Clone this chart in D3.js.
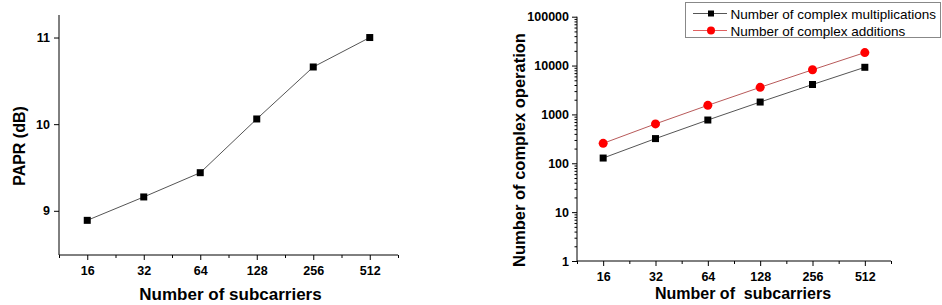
<!DOCTYPE html>
<html>
<head>
<meta charset="utf-8">
<script src="https://cdn.jsdelivr.net/npm/d3@7"></script>
<style>
  body { margin: 0; background: #fff; }
  svg { display: block; font-family: Arial, "Liberation Sans", sans-serif; }
  .tick text { font-weight: bold; font-size: 12.5px; fill: #000; }
</style>
</head>
<body>
<div id="viz"></div>
<script>
const width = 942;
const height = 305;

// Data
const subcarriers = [16, 32, 64, 128, 256, 512];
const papr = [8.89, 9.16, 9.44, 10.06, 10.66, 11.0];
const multiplications = [128, 320, 768, 1792, 4096, 9216];
const additions = [256, 640, 1536, 3584, 8192, 18432];
const leftYTicks = [9, 10, 11];
const rightYTicks = [1, 10, 100, 1000, 10000, 100000];
const seriesNames = ['Number of complex multiplications', 'Number of complex additions'];

const svg = d3.select('#viz')
  .append('svg')
  .attr('width', width)
  .attr('height', height);

// half a step either side of the first/last point (log2 spacing)
const xDomain = [16 / Math.SQRT2, 512 * Math.SQRT2];
const midTicks = [];
for (let i = 0; i <= subcarriers.length; i++) midTicks.push(16 * Math.pow(2, i - 0.5));

// ---------- Left chart: PAPR ----------
const left = {x0: 59, x1: 398, y0: 255, y1: 15};
const xL = d3.scaleLog().base(2).domain(xDomain).range([left.x0, left.x1]);
const yL = d3.scaleLinear().domain([8.49, 11.26]).range([left.y0, left.y1]);

const gL = svg.append('g');

// minor x ticks
gL.append('g')
  .attr('transform', `translate(0,${left.y0})`)
  .call(d3.axisBottom(xL).tickValues(midTicks).tickSize(3).tickFormat(''))
  .call(g => g.select('.domain').remove());

gL.append('g')
  .attr('transform', `translate(0,${left.y0})`)
  .call(d3.axisBottom(xL).tickValues(subcarriers).tickSize(5).tickPadding(6).tickFormat(d3.format('d')))
  .call(g => g.select('.domain').attr('d', `M${left.x0},0H${left.x1}`));

gL.append('g')
  .attr('transform', `translate(${left.x0},0)`)
  .call(d3.axisLeft(yL).tickValues(leftYTicks).tickSize(5).tickPadding(4).tickFormat(d3.format('d')))
  .call(g => g.select('.domain').attr('d', `M0,${left.y0}V${left.y1}`));

gL.append('path')
  .datum(subcarriers.map((s, i) => [s, papr[i]]))
  .attr('fill', 'none')
  .attr('stroke', '#555')
  .attr('stroke-width', 1)
  .attr('d', d3.line().x(d => xL(d[0])).y(d => yL(d[1])));

gL.selectAll('rect.pt')
  .data(subcarriers.map((s, i) => [s, papr[i]]))
  .join('rect')
  .attr('class', 'pt')
  .attr('x', d => xL(d[0]) - 3.5)
  .attr('y', d => yL(d[1]) - 3.5)
  .attr('width', 7)
  .attr('height', 7)
  .attr('fill', '#000');

gL.append('text')
  .attr('x', (left.x0 + left.x1) / 2 + 2)
  .attr('y', 300)
  .attr('text-anchor', 'middle')
  .attr('font-weight', 'bold')
  .attr('font-size', 17)
  .text('Number of subcarriers');

gL.append('text')
  .attr('transform', 'translate(24.5,146) rotate(-90)')
  .attr('text-anchor', 'middle')
  .attr('font-weight', 'bold')
  .attr('font-size', 16)
  .text('PAPR (dB)');

// ---------- Right chart: complex operations ----------
const right = {x0: 577, x1: 891, y0: 261, y1: 16.7};
const xR = d3.scaleLog().base(2).domain(xDomain).range([right.x0, right.x1]);
const yR = d3.scaleLog().domain([1, 100000]).range([right.y0, right.y1]);

const gR = svg.append('g');

const minorY = [];
for (let d = 1; d < 100000; d *= 10) for (let m = 2; m <= 9; m++) minorY.push(d * m);

gR.append('g')
  .attr('transform', `translate(${right.x0},0)`)
  .call(d3.axisLeft(yR).tickValues(minorY).tickSize(2.5).tickFormat(''))
  .call(g => g.select('.domain').remove());

gR.append('g')
  .attr('transform', `translate(${right.x0},0)`)
  .call(d3.axisLeft(yR).tickValues(rightYTicks).tickSize(5).tickPadding(3).tickFormat(d3.format('d')))
  .call(g => g.select('.domain').attr('d', `M0,${right.y0}V${right.y1}`));

gR.append('g')
  .attr('transform', `translate(0,${right.y0})`)
  .call(d3.axisBottom(xR).tickValues(midTicks).tickSize(3).tickFormat(''))
  .call(g => g.select('.domain').remove());

gR.append('g')
  .attr('transform', `translate(0,${right.y0})`)
  .call(d3.axisBottom(xR).tickValues(subcarriers).tickSize(5).tickPadding(6).tickFormat(d3.format('d')))
  .call(g => g.select('.domain').attr('d', `M${right.x0},0H${right.x1}`));

const lineR = d3.line().x(d => xR(d[0])).y(d => yR(d[1]));
const multPts = subcarriers.map((s, i) => [s, multiplications[i]]);
const addPts = subcarriers.map((s, i) => [s, additions[i]]);

gR.append('path').datum(multPts)
  .attr('fill', 'none').attr('stroke', '#555').attr('stroke-width', 1)
  .attr('d', lineR);
gR.append('path').datum(addPts)
  .attr('fill', 'none').attr('stroke', '#b85a5a').attr('stroke-width', 1)
  .attr('d', lineR);

gR.selectAll('rect.pt')
  .data(multPts)
  .join('rect')
  .attr('class', 'pt')
  .attr('x', d => xR(d[0]) - 3.5)
  .attr('y', d => yR(d[1]) - 3.5)
  .attr('width', 7)
  .attr('height', 7)
  .attr('fill', '#000');

gR.selectAll('circle.pt')
  .data(addPts)
  .join('circle')
  .attr('class', 'pt')
  .attr('cx', d => xR(d[0]))
  .attr('cy', d => yR(d[1]))
  .attr('r', 4.5)
  .attr('fill', '#ff0000');

gR.append('text')
  .attr('x', 743)
  .attr('y', 299)
  .attr('text-anchor', 'middle')
  .attr('font-weight', 'bold')
  .attr('font-size', 16)
  .attr('xml:space', 'preserve')
  .style('white-space', 'pre')
  .text('Number of  subcarriers');

gR.append('text')
  .attr('transform', 'translate(524.5,150) rotate(-90)')
  .attr('text-anchor', 'middle')
  .attr('font-weight', 'bold')
  .attr('font-size', 16.5)
  .text('Number of complex operation');

// legend
const legend = svg.append('g');
legend.append('rect')
  .attr('x', 685.5).attr('y', 2.5)
  .attr('width', 255).attr('height', 35)
  .attr('fill', '#fff').attr('stroke', '#888').attr('stroke-width', 1);

const legendRows = [
  {name: seriesNames[0], stroke: '#555', marker: 'square', y: 13.5},
  {name: seriesNames[1], stroke: '#e06060', marker: 'circle', y: 30.5}
];
legendRows.forEach(r => {
  legend.append('line')
    .attr('x1', 693).attr('x2', 727)
    .attr('y1', r.y).attr('y2', r.y)
    .attr('stroke', r.stroke).attr('stroke-width', 1);
  if (r.marker === 'square') {
    legend.append('rect')
      .attr('x', 711 - 3).attr('y', r.y - 3)
      .attr('width', 6).attr('height', 6).attr('fill', '#000');
  } else {
    legend.append('circle')
      .attr('cx', 711).attr('cy', r.y).attr('r', 4).attr('fill', '#ff0000');
  }
  legend.append('text')
    .attr('x', 730.5).attr('y', r.y + 5)
    .attr('font-size', 13.5)
    .text(r.name);
});
</script>
</body>
</html>
